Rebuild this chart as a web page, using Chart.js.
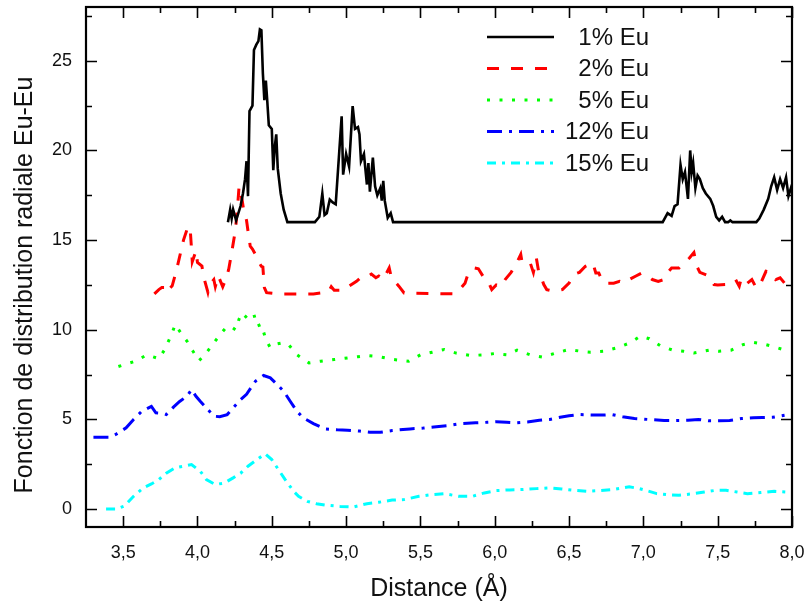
<!DOCTYPE html>
<html>
<head>
<meta charset="utf-8">
<script src="https://cdn.jsdelivr.net/npm/chart.js@4/dist/chart.umd.min.js"></script>
<style>
  body { margin: 0; background: #fff; }
  canvas { display: block; }
</style>
</head>
<body>
<canvas id="rdfChart" width="809" height="608"></canvas>
<script>
// g(r) Eu-Eu pour différentes concentrations

const eu1X = [4.205, 4.22, 4.23, 4.24, 4.26, 4.29, 4.306, 4.32, 4.33, 4.34, 4.35, 4.37, 4.38, 4.396, 4.41, 4.42, 4.43, 4.44, 4.45, 4.46, 4.47, 4.48, 4.50, 4.51, 4.52, 4.53, 4.54, 4.56, 4.58, 4.605,
  4.79, 4.82, 4.84, 4.855, 4.87, 4.89, 4.91, 4.93, 4.97, 4.98, 5.00, 5.02, 5.044, 5.06, 5.08, 5.09, 5.10, 5.12, 5.14, 5.15, 5.16, 5.18, 5.195, 5.21, 5.23, 5.24, 5.25, 5.26, 5.28, 5.30, 5.316,
  7.13, 7.163, 7.19, 7.21, 7.23, 7.25, 7.265, 7.28, 7.30, 7.315, 7.325, 7.335, 7.35, 7.365, 7.38, 7.40, 7.42, 7.45, 7.47, 7.49, 7.51, 7.53, 7.55, 7.57, 7.585, 7.60,
  7.76, 7.78, 7.81, 7.84, 7.86, 7.88, 7.90, 7.92, 7.94, 7.96, 7.976, 8.0];
const eu1Y = [16.0, 16.7, 16.2, 16.7, 16.1, 16.9, 17.6, 18.4, 19.4, 17.45, 22.2, 22.5, 25.6, 25.9, 26.1, 26.75, 26.7, 24.3, 22.8, 23.9, 22.7, 21.4, 21.2, 18.9, 20.2, 20.9, 19.0, 17.6, 16.7, 16.0,
  16.0, 16.3, 17.6, 16.4, 16.5, 17.26, 17.1, 17.0, 21.9, 18.65, 19.8, 19.1, 22.47, 21.2, 21.3, 20.9, 19.4, 19.8, 18.1, 19.3, 17.7, 19.6, 18.0, 17.5, 17.9, 17.2, 18.3, 17.2, 16.25, 16.5, 16.0,
  16.0, 16.5, 16.35, 16.9, 17.0, 19.2, 18.4, 18.8, 17.3, 20.0, 18.8, 19.3, 17.9, 18.6, 18.4, 17.9, 17.6, 17.3, 16.9, 16.3, 16.1, 16.3, 16.0, 16.0, 16.1, 16.0,
  16.0, 16.2, 16.7, 17.3, 18.0, 18.5, 17.8, 18.4, 17.9, 18.5, 17.45, 18.1];

const eu2X = [3.71, 3.74, 3.76, 3.785, 3.79, 3.83, 3.86, 3.906, 3.93, 3.95, 3.96, 3.965, 3.99, 4.00, 4.03, 4.04, 4.07, 4.08, 4.11, 4.12, 4.14, 4.17, 4.19, 4.21, 4.23, 4.256, 4.27, 4.28, 4.30, 4.31,
  4.33, 4.34, 4.355, 4.37, 4.39, 4.41, 4.43, 4.44, 4.45, 4.465, 4.54, 4.78, 4.88, 4.90, 4.92, 4.99, 5.02, 5.07, 5.09, 5.11, 5.15, 5.17, 5.20, 5.22, 5.25, 5.29, 5.305, 5.355, 5.39,
  5.725, 5.77, 5.80, 5.82, 5.86, 5.89, 5.92, 5.95, 5.98, 6.01, 6.04, 6.07, 6.11, 6.14, 6.175, 6.185, 6.24, 6.26, 6.28, 6.295, 6.31, 6.33, 6.35, 6.40, 6.455, 6.50, 6.53, 6.57, 6.61, 6.66,
  6.68, 6.70, 6.725, 6.75, 6.80, 6.84, 6.87, 6.905, 6.95, 6.99, 7.03, 7.06, 7.10, 7.14, 7.17, 7.19, 7.24, 7.27, 7.31, 7.34, 7.36, 7.38, 7.44, 7.475, 7.50, 7.555, 7.59, 7.62, 7.645,
  7.66, 7.70, 7.73, 7.76, 7.79, 7.825, 7.86, 7.89, 7.92, 7.95, 7.97, 8.0];
const eu2Y = [12.0, 12.24, 12.35, 12.35, 12.1, 12.45, 13.36, 15.0, 15.6, 15.75, 14.5, 13.8, 14.4, 13.75, 13.55, 13.0, 12.1, 12.5, 12.8, 12.4, 13.0, 12.4, 12.8, 13.36, 14.3, 15.6, 16.9, 18.0, 17.26, 16.7,
  16.1, 15.5, 14.66, 14.5, 14.2, 13.8, 13.54, 13.5, 12.35, 12.07, 12.0, 12.0, 12.1, 12.4, 12.2, 12.2, 12.43, 12.7, 12.85, 12.8, 13.0, 13.1, 12.9, 13.0, 12.8, 13.45, 12.9, 12.43, 12.05,
  12.0, 12.3, 12.6, 13.1, 13.45, 13.4, 13.0, 12.8, 12.24, 12.5, 12.4, 12.8, 13.2, 13.6, 14.2, 13.7, 13.7, 13.2, 14.0, 13.26, 13.0, 12.52, 12.24, 12.15, 12.24, 12.6, 13.08, 13.2, 13.54, 13.73,
  13.17, 13.17, 12.7, 12.6, 12.6, 12.7, 12.6, 12.8, 13.0, 13.17, 13.0, 12.8, 12.7, 12.8, 13.26, 13.45, 13.45, 13.7, 14.0, 14.3, 13.54, 13.2, 13.0, 12.52, 12.5, 12.52, 12.7, 12.8, 12.43,
  12.9, 12.6, 12.8, 12.33, 12.6, 13.26, 13.2, 12.8, 12.9, 12.6, 12.43, 12.5];

const eu5X = [3.468, 3.58, 3.66, 3.74, 3.78, 3.83, 3.85, 3.89, 3.93, 3.97, 4.01, 4.05, 4.11, 4.15, 4.19, 4.22, 4.256, 4.28, 4.30, 4.34, 4.38, 4.40, 4.43, 4.46, 4.49, 4.53, 4.57, 4.61, 4.67,
  4.75, 4.83, 4.92, 5.01, 5.08, 5.14, 5.22, 5.32, 5.42, 5.50, 5.58, 5.66, 5.74, 5.84, 5.92, 5.995, 6.08, 6.15, 6.24, 6.32, 6.41, 6.50, 6.58, 6.645, 6.73, 6.82, 6.91, 6.98,
  7.04, 7.12, 7.20, 7.27, 7.34, 7.44, 7.51, 7.59, 7.67, 7.74, 7.81, 7.88, 7.98];
const eu5Y = [7.95, 8.24, 8.6, 8.39, 8.9, 9.83, 10.29, 9.8, 9.36, 8.8, 8.28, 8.6, 9.27, 9.7, 10.1, 10.2, 10.0, 10.6, 10.94, 10.6, 10.85, 10.2, 10.3, 9.45, 9.0, 9.2, 9.27, 9.2, 8.6,
  8.15, 8.25, 8.34, 8.43, 8.5, 8.56, 8.5, 8.34, 8.24, 8.6, 8.75, 8.9, 8.7, 8.56, 8.6, 8.67, 8.6, 8.86, 8.6, 8.48, 8.7, 8.9, 8.8, 8.75, 8.8, 8.99, 9.27, 9.64,
  9.5, 9.08, 8.86, 8.8, 8.7, 8.86, 8.8, 8.86, 9.17, 9.3, 9.2, 9.05, 8.8];

const eu12X = [3.30, 3.41, 3.45, 3.52, 3.57, 3.625, 3.69, 3.72, 3.76, 3.79, 3.84, 3.88, 3.93, 3.96, 3.99, 4.02, 4.06, 4.11, 4.15, 4.20, 4.24, 4.29, 4.33, 4.39, 4.445, 4.49, 4.53, 4.58, 4.625,
  4.67, 4.71, 4.78, 4.86, 4.94, 5.01, 5.09, 5.16, 5.23, 5.31, 5.43, 5.52, 5.59, 5.68, 5.77, 5.87, 5.95, 6.01, 6.08, 6.15, 6.22, 6.30, 6.37, 6.44, 6.50, 6.57, 6.65, 6.725, 6.79,
  6.86, 6.94, 7.03, 7.14, 7.22, 7.30, 7.37, 7.44, 7.51, 7.58, 7.66, 7.74, 7.80, 7.87, 7.95];
const eu12Y = [4.0, 4.0, 4.16, 4.53, 5.0, 5.45, 5.73, 5.37, 5.35, 5.27, 5.7, 6.0, 6.3, 6.66, 6.29, 6.0, 5.64, 5.18, 5.15, 5.27, 5.64, 6.1, 6.4, 7.13, 7.45, 7.32, 7.0, 6.57, 6.0,
  5.45, 5.09, 4.77, 4.47, 4.42, 4.4, 4.35, 4.28, 4.28, 4.38, 4.47, 4.52, 4.58, 4.65, 4.77, 4.81, 4.84, 4.87, 4.84, 4.81, 4.85, 4.95, 5.0, 5.12, 5.2, 5.27, 5.25, 5.24, 5.27,
  5.15, 5.05, 5.0, 4.94, 4.94, 4.95, 5.0, 4.92, 4.92, 4.94, 5.05, 5.09, 5.1, 5.12, 5.23];

const eu15X = [3.385, 3.455, 3.51, 3.57, 3.636, 3.69, 3.74, 3.79, 3.85, 3.906, 3.96, 4.02, 4.06, 4.12, 4.18, 4.24, 4.29, 4.34, 4.40, 4.455, 4.50, 4.545, 4.59, 4.647,
  4.68, 4.74, 4.80, 4.87, 4.96, 5.05, 5.14, 5.22, 5.31, 5.39, 5.49, 5.57, 5.66, 5.76, 5.85, 5.93, 6.01, 6.10, 6.19, 6.28, 6.37, 6.45, 6.53, 6.62, 6.71, 6.80, 6.905,
  6.97, 7.04, 7.09, 7.16, 7.24, 7.33, 7.41, 7.49, 7.556, 7.63, 7.70, 7.79, 7.88, 7.96];
const eu15Y = [0.0, 0.0, 0.18, 0.71, 1.18, 1.4, 1.64, 2.0, 2.3, 2.39, 2.48, 2.1, 1.64, 1.37, 1.45, 1.74, 2.0, 2.39, 2.76, 3.09, 2.76, 2.2, 1.64, 0.99,
  0.71, 0.43, 0.3, 0.21, 0.15, 0.12, 0.3, 0.38, 0.5, 0.53, 0.71, 0.8, 0.86, 0.71, 0.71, 0.9, 1.03, 1.07, 1.09, 1.14, 1.18, 1.12, 1.05, 0.99, 1.03, 1.09, 1.24,
  1.15, 0.99, 0.86, 0.8, 0.77, 0.85, 0.95, 1.05, 1.05, 0.95, 0.86, 0.92, 0.99, 0.95];

const seriesLabels = ["1% Eu", "2% Eu", "5% Eu", "12% Eu", "15% Eu"];

const xMajorTicks = [3.5, 4.0, 4.5, 5.0, 5.5, 6.0, 6.5, 7.0, 7.5, 8.0];
const xMinorTicks = [3.75, 4.25, 4.75, 5.25, 5.75, 6.25, 6.75, 7.25, 7.75];
const yMajorTicks = [0, 5, 10, 15, 20, 25];
const yMinorTicks = [2.5, 7.5, 12.5, 17.5, 22.5, 27.5];

const FONT = "'Liberation Sans', Arial, sans-serif";

// style de chaque courbe (couleur, pointillés)
const styles = [
  { color: "#000000", width: 2.6, dash: [] },
  { color: "#ff0000", width: 3, dash: [12, 12] },
  { color: "#00ff00", width: 3, dash: [3, 9.5] },
  { color: "#0000ff", width: 3, dash: [15, 7, 3, 7] },
  { color: "#00ffff", width: 3, dash: [9, 6, 3, 6] },
];

const allX = [eu1X, eu2X, eu5X, eu12X, eu15X];
const allY = [eu1Y, eu2Y, eu5Y, eu12Y, eu15Y];

function toPoints(xs, ys) {
  return xs.map((x, i) => ({ x: x, y: ys[i] }));
}

const datasets = seriesLabels.map((label, i) => ({
  label: label,
  data: toPoints(allX[i], allY[i]),
  borderColor: styles[i].color,
  backgroundColor: styles[i].color,
  borderWidth: styles[i].width,
  borderDash: styles[i].dash,
  pointRadius: 0,
  tension: 0,
  fill: false,
}));

// cadre, graduations vers l'intérieur, légende et titres des axes
const originStyle = {
  id: "originStyle",
  afterDraw(chart) {
    const { ctx, chartArea: a, scales } = chart;
    const xs = scales.x, ys = scales.y;
    ctx.save();
    ctx.strokeStyle = "#000";
    ctx.lineWidth = 1.6;
    ctx.beginPath();
    const tickX = (v, len) => {
      const p = Math.round(xs.getPixelForValue(v)) + 0.5;
      ctx.moveTo(p, a.bottom); ctx.lineTo(p, a.bottom - len);
      ctx.moveTo(p, a.top); ctx.lineTo(p, a.top + len);
    };
    const tickY = (v, len) => {
      const p = Math.round(ys.getPixelForValue(v)) + 0.5;
      ctx.moveTo(a.left, p); ctx.lineTo(a.left + len, p);
      ctx.moveTo(a.right, p); ctx.lineTo(a.right - len, p);
    };
    xMajorTicks.forEach(v => tickX(v, 11));
    xMinorTicks.forEach(v => tickX(v, 6));
    yMajorTicks.forEach(v => tickY(v, 11));
    yMinorTicks.forEach(v => tickY(v, 6));
    ctx.stroke();

    ctx.lineWidth = 2.2;
    ctx.strokeRect(a.left, a.top, a.right - a.left, a.bottom - a.top);

    // légende
    const legendTop = 37, rowGap = 31.5;
    ctx.font = "24px " + FONT;
    ctx.fillStyle = "#111";
    ctx.textAlign = "right";
    ctx.textBaseline = "middle";
    seriesLabels.forEach((label, i) => {
      const yy = legendTop + i * rowGap;
      ctx.save();
      ctx.strokeStyle = styles[i].color;
      ctx.lineWidth = styles[i].width;
      ctx.setLineDash(styles[i].dash);
      ctx.beginPath();
      ctx.moveTo(487, yy);
      ctx.lineTo(554, yy);
      ctx.stroke();
      ctx.restore();
      ctx.fillText(label, 649, yy + 1);
    });

    // titres des axes
    ctx.font = "25px " + FONT;
    ctx.textAlign = "center";
    ctx.fillText("Distance (Å)", 439, 589);
    ctx.translate(25, 285);
    ctx.rotate(-Math.PI / 2);
    ctx.fillText("Fonction de distribution radiale Eu-Eu", 0, 0);
    ctx.restore();
  },
};

new Chart(document.getElementById("rdfChart"), {
  type: "line",
  data: { datasets: datasets },
  plugins: [originStyle],
  options: {
    responsive: false,
    animation: false,
    layout: { padding: { left: 0, right: 17, top: 7, bottom: 0 } },
    plugins: {
      legend: { display: false },
      tooltip: { enabled: false },
    },
    scales: {
      x: {
        type: "linear",
        min: 3.25,
        max: 8.0,
        afterBuildTicks: (scale) => { scale.ticks = xMajorTicks.map(v => ({ value: v })); },
        afterFit: (scale) => {
          scale.height = 81;
          scale.paddingLeft = 0;
          scale.paddingRight = 0;
        },
        grid: { display: false, drawTicks: false },
        border: { display: false },
        ticks: {
          autoSkip: false,
          maxRotation: 0,
          padding: 15,
          color: "#111",
          font: { family: FONT, size: 18 },
          callback: (v) => Number(v).toFixed(1).replace(".", ","),
        },
      },
      y: {
        type: "linear",
        min: -1,
        max: 28,
        afterBuildTicks: (scale) => { scale.ticks = yMajorTicks.map(v => ({ value: v })); },
        afterFit: (scale) => {
          scale.width = 86;
          scale.paddingTop = 0;
          scale.paddingBottom = 0;
        },
        grid: { display: false, drawTicks: false },
        border: { display: false },
        ticks: {
          padding: 14,
          color: "#111",
          font: { family: FONT, size: 18 },
          callback: (v) => String(v),
        },
      },
    },
  },
});
</script>
</body>
</html>
